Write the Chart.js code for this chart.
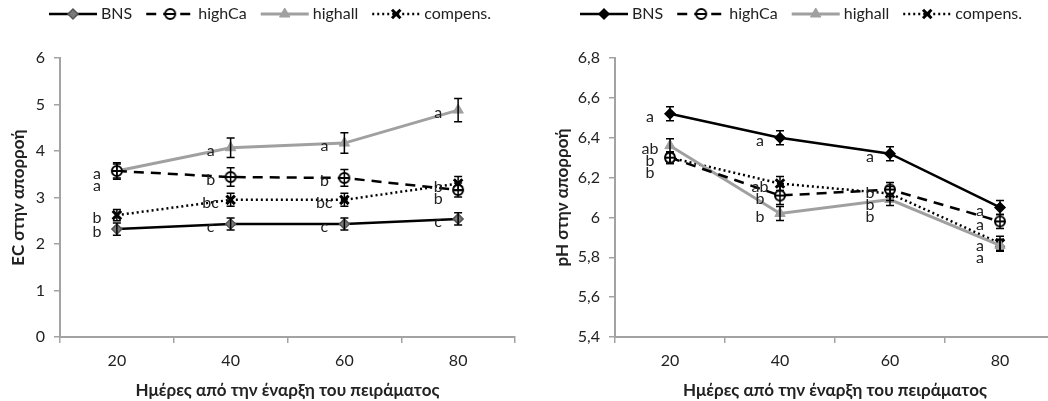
<!DOCTYPE html>
<html>
<head>
<meta charset="utf-8">
<script src="https://cdn.jsdelivr.net/npm/chart.js@4.4.1/dist/chart.umd.min.js"></script>
<style>
  html, body { margin: 0; padding: 0; background: #fff; overflow: hidden; }
  #wrap { position: relative; width: 1048px; height: 401px; }
  #ec { position: absolute; left: 0; top: 0; width: 524px; height: 401px; }
  #ph { position: absolute; left: 524px; top: 0; width: 540px; height: 401px; }
</style>
</head>
<body>
<div id="wrap">
  <canvas id="ec" width="524" height="401"></canvas>
  <canvas id="ph" width="540" height="401"></canvas>
</div>
<script>
// days after start
const days = ['20', '40', '60', '80'];
const seriesNames = ['BNS', 'highCa', 'highall', 'compens.'];

// EC in drainage
const ecBNS = [2.32, 2.43, 2.43, 2.54];
const ecHighCa = [3.57, 3.44, 3.42, 3.16];
const ecHighall = [3.57, 4.07, 4.17, 4.88];
const ecCompens = [2.62, 2.95, 2.95, 3.30];
const ecBNSErr = [0.13, 0.13, 0.13, 0.13];
const ecHighCaErr = [0.15, 0.2, 0.18, 0.15];
const ecHighallErr = [0.18, 0.21, 0.22, 0.25];
const ecCompensErr = [0.12, 0.14, 0.14, 0.15];
const ecBNSLetters = ['b', 'c', 'c', 'c'];
const ecHighCaLetters = ['a', 'b', 'b', 'b'];
const ecHighallLetters = ['a', 'a', 'a', 'a'];
const ecCompensLetters = ['b', 'bc', 'bc', 'b'];
const ecTicks = [0, 1, 2, 3, 4, 5, 6];
const ecTickLabels = ['0', '1', '2', '3', '4', '5', '6'];

// pH in drainage
const phBNS = [6.52, 6.40, 6.32, 6.05];
const phHighCa = [6.30, 6.11, 6.14, 5.98];
const phHighall = [6.36, 6.02, 6.09, 5.86];
const phCompens = [6.30, 6.17, 6.12, 5.87];
const phBNSErr = [0.035, 0.035, 0.035, 0.035];
const phHighCaErr = [0.03, 0.045, 0.035, 0.035];
const phHighallErr = [0.035, 0.035, 0.03, 0.03];
const phCompensErr = [0.03, 0.035, 0.035, 0.035];
const phBNSLetters = ['a', 'a', 'a', 'a'];
const phHighCaLetters = ['b', 'b', 'b', 'a'];
const phHighallLetters = ['ab', 'b', 'b', 'a'];
const phCompensLetters = ['b', 'ab', 'b', 'a'];
const phTicks = [5.4, 5.6, 5.8, 6.0, 6.2, 6.4, 6.6, 6.8];
const phTickLabels = ['5,4', '5,6', '5,8', '6', '6,2', '6,4', '6,6', '6,8'];

const FONT = 'Lato, "Open Sans", sans-serif';
const TEXT = '#222';
const AXIS = '#a3a3a3';
const GREY = '#a0a0a0';

// circle with a bar through it, used for highCa
function thetaMarker() {
  const c = document.createElement('canvas');
  c.width = 14; c.height = 14;
  const g = c.getContext('2d');
  g.beginPath();
  g.arc(7, 7, 5, 0, Math.PI * 2);
  g.fillStyle = '#fff';
  g.fill();
  g.lineWidth = 2;
  g.strokeStyle = '#000';
  g.stroke();
  g.beginPath();
  g.moveTo(2, 7);
  g.lineTo(12, 7);
  g.stroke();
  return c;
}
const theta = thetaMarker();

function series(values, errors, letters, idx, bnsFill) {
  const base = { label: seriesNames[idx], data: values, errors: errors, letters: letters, tension: 0, fill: false };
  if (idx === 0) return Object.assign(base, {
    borderColor: '#000', borderWidth: 2.5, pointStyle: 'rectRot', pointRadius: 5,
    pointBackgroundColor: bnsFill, pointBorderColor: bnsFill === '#000' ? '#000' : '#555', pointBorderWidth: 1.5
  });
  if (idx === 1) return Object.assign(base, {
    borderColor: '#000', borderWidth: 2.5, borderDash: [10, 7], pointStyle: theta, pointRadius: 6
  });
  if (idx === 2) return Object.assign(base, {
    borderColor: GREY, borderWidth: 3, pointStyle: 'triangle', pointRadius: 6,
    pointBackgroundColor: GREY, pointBorderColor: GREY, pointBorderWidth: 1
  });
  return Object.assign(base, {
    borderColor: '#000', borderWidth: 2.5, borderDash: [2, 3], pointStyle: 'crossRot', pointRadius: 6,
    pointBackgroundColor: '#000', pointBorderColor: '#000', pointBorderWidth: 3
  });
}

const errorBars = {
  id: 'errorBars',
  afterDatasetsDraw(chart) {
    const ctx = chart.ctx;
    const y = chart.scales.y;
    ctx.save();
    ctx.strokeStyle = '#000';
    ctx.lineWidth = 1.5;
    chart.data.datasets.forEach((ds, di) => {
      const meta = chart.getDatasetMeta(di);
      meta.data.forEach((pt, i) => {
        const top = y.getPixelForValue(ds.data[i] + ds.errors[i]);
        const bot = y.getPixelForValue(ds.data[i] - ds.errors[i]);
        ctx.beginPath();
        ctx.moveTo(pt.x, top); ctx.lineTo(pt.x, bot);
        ctx.moveTo(pt.x - 4, top); ctx.lineTo(pt.x + 4, top);
        ctx.moveTo(pt.x - 4, bot); ctx.lineTo(pt.x + 4, bot);
        ctx.stroke();
      });
    });
    ctx.restore();
  }
};

const letterMarks = {
  id: 'letterMarks',
  afterDraw(chart) {
    const ctx = chart.ctx;
    ctx.save();
    ctx.font = '16px ' + FONT;
    ctx.fillStyle = TEXT;
    ctx.textAlign = 'center';
    ctx.textBaseline = 'middle';
    days.forEach((d, i) => {
      const items = chart.data.datasets.map((ds, di) => {
        const pt = chart.getDatasetMeta(di).data[i];
        return { x: pt.x - 20, y: pt.y + 3, t: ds.letters[i] };
      }).sort((a, b) => a.y - b.y);
      for (let k = 1; k < items.length; k++) {
        if (items[k].y - items[k - 1].y < 12) items[k].y = items[k - 1].y + 12;
      }
      items.forEach(it => ctx.fillText(it.t, it.x, it.y));
    });
    ctx.restore();
  }
};

const lineLegend = {
  id: 'lineLegend',
  afterDraw(chart, args, opts) {
    const ctx = chart.ctx;
    const sample = 48, gapText = 4, gapItem = 14, cy = 14;
    ctx.save();
    ctx.font = '16px ' + FONT;
    const widths = chart.data.datasets.map(ds => sample + gapText + ctx.measureText(ds.label).width);
    const total = widths.reduce((a, b) => a + b, 0) + gapItem * (widths.length - 1);
    let x = chart.width / 2 + (opts.shift || 0) - total / 2;
    chart.data.datasets.forEach((ds, di) => {
      ctx.save();
      ctx.strokeStyle = ds.borderColor;
      ctx.lineWidth = ds.borderWidth;
      ctx.setLineDash(ds.borderDash || []);
      ctx.beginPath();
      ctx.moveTo(x, cy); ctx.lineTo(x + sample, cy);
      ctx.stroke();
      ctx.setLineDash([]);
      ctx.fillStyle = ds.pointBackgroundColor || '#000';
      ctx.strokeStyle = ds.pointBorderColor || '#000';
      ctx.lineWidth = ds.pointBorderWidth || 1;
      Chart.helpers.drawPoint(ctx, { pointStyle: ds.pointStyle, radius: ds.pointRadius, borderWidth: ds.pointBorderWidth || 1, rotation: 0 }, x + sample / 2, cy);
      ctx.restore();
      ctx.fillStyle = TEXT;
      ctx.textBaseline = 'middle';
      ctx.fillText(ds.label, x + sample + gapText, cy);
      x += widths[di] + gapItem;
    });
    ctx.restore();
  }
};

function makeChart(id, o) {
  return new Chart(document.getElementById(id), {
    type: 'line',
    data: { labels: days, datasets: o.datasets },
    options: {
      responsive: false,
      animation: false,
      layout: { padding: { top: 58, right: o.padRight, left: 0, bottom: 0 } },
      plugins: { legend: { display: false }, tooltip: { enabled: false }, lineLegend: { shift: o.legendShift } },
      scales: {
        x: {
          type: 'category',
          offset: true,
          grid: { offset: true, drawOnChartArea: false, tickLength: 6, color: AXIS, lineWidth: 1.5 },
          border: { color: AXIS, width: 2 },
          ticks: { font: { family: FONT, size: 16 }, color: TEXT, padding: 8 },
          title: { display: true, text: 'Ημέρες από την έναρξη του πειράματος', color: TEXT,
                   font: { family: FONT, size: 17, weight: 'bold' }, padding: { top: 0, bottom: 0 } },
          afterFit: s => { s.height = 64; }
        },
        y: {
          min: o.ticks[0],
          max: o.ticks[o.ticks.length - 1],
          afterBuildTicks: s => { s.ticks = o.ticks.map(v => ({ value: v })); },
          grid: { drawOnChartArea: false, tickLength: 6, color: AXIS, lineWidth: 1.5 },
          border: { color: AXIS, width: 2 },
          ticks: { font: { family: FONT, size: 16 }, color: TEXT, padding: 9,
                   callback: (v, i) => o.tickLabels[i] },
          title: { display: true, text: o.yTitle, color: TEXT,
                   font: { family: FONT, size: 17, weight: 'bold' }, padding: { top: o.titlePad, bottom: 0 } },
          afterFit: s => { s.width = o.yWidth; }
        }
      }
    },
    plugins: [errorBars, letterMarks, lineLegend]
  });
}

makeChart('ec', {
  datasets: [
    series(ecBNS, ecBNSErr, ecBNSLetters, 0, '#7a7a7a'),
    series(ecHighCa, ecHighCaErr, ecHighCaLetters, 1),
    series(ecHighall, ecHighallErr, ecHighallLetters, 2),
    series(ecCompens, ecCompensErr, ecCompensLetters, 3)
  ],
  ticks: ecTicks, tickLabels: ecTickLabels,
  yTitle: 'EC στην απορροή', yWidth: 60, titlePad: 8, padRight: 6, legendShift: 8
});

makeChart('ph', {
  datasets: [
    series(phBNS, phBNSErr, phBNSLetters, 0, '#000'),
    series(phHighCa, phHighCaErr, phHighCaLetters, 1),
    series(phHighall, phHighallErr, phHighallLetters, 2),
    series(phCompens, phCompensErr, phCompensLetters, 3)
  ],
  ticks: phTicks, tickLabels: phTickLabels,
  yTitle: 'pH στην απορροή', yWidth: 91, titlePad: 28, padRight: 9, legendShift: 7
});
</script>
</body>
</html>
